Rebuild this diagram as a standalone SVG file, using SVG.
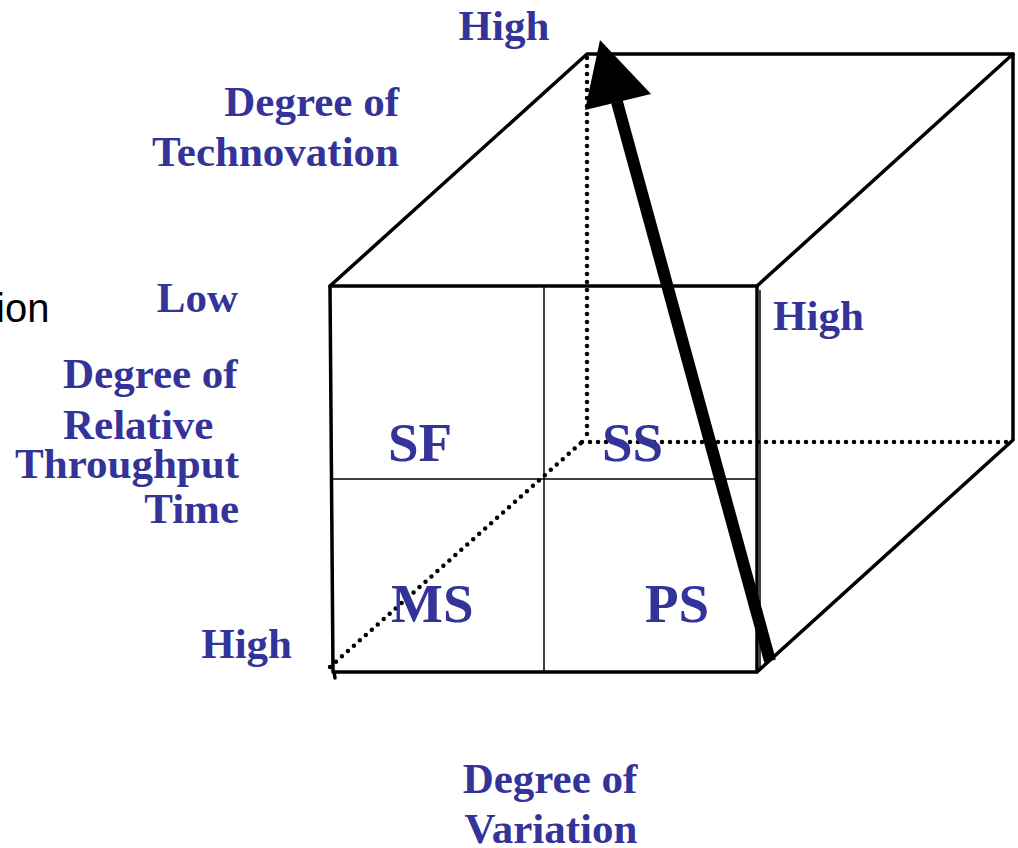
<svg xmlns="http://www.w3.org/2000/svg" width="1018" height="848" viewBox="0 0 1018 848">
<style>
.lbl{font-family:"Liberation Serif","Times New Roman",serif;font-weight:bold;fill:#333399;font-size:43px}
.big{font-size:55px}
.edge{stroke:#000;stroke-width:3.5;fill:none;stroke-linecap:round;stroke-linejoin:round}
.thin{stroke:#000;stroke-width:1.5;fill:none}
.dot{stroke:#000;stroke-width:4.5;fill:none;stroke-dasharray:0 8;stroke-linecap:round}
</style>
<rect width="1018" height="848" fill="#fff"/>
<g id="cube">
<polyline class="edge" points="330,286 757,286 757,672 333,672 330,286"/>
<line class="edge" x1="334" y1="672" x2="335" y2="678"/>
<polyline class="edge" points="330,286 587,54 1013,54 1013,440 757,672"/>
<line class="edge" x1="757" y1="286" x2="1013" y2="54"/>
<line class="thin" x1="331" y1="479" x2="757" y2="479"/>
<line class="thin" x1="544" y1="286" x2="544" y2="672"/>
<line class="thin" x1="760" y1="290" x2="760" y2="668"/>
</g>
<g id="hidden-edges">
<line class="dot" x1="587" y1="58" x2="587" y2="441"/>
<line class="dot" x1="582" y1="442" x2="1008" y2="442"/>
<line class="dot" x1="330" y1="667" x2="582" y2="442"/>
</g>
<g id="connectors">
<line x1="770" y1="661" x2="617" y2="102" stroke="#000" stroke-width="12"/>
<polygon points="600,40 651,94 585,110" fill="#000"/>
</g>
<g id="labels">
<text class="lbl" x="504" y="40" text-anchor="middle">High</text>
<text class="lbl" x="399" y="116" text-anchor="end">Degree of</text>
<text class="lbl" x="399" y="166" text-anchor="end">Technovation</text>
<text class="lbl" x="238" y="312" text-anchor="end">Low</text>
<text class="lbl" x="63" y="388">Degree of</text>
<text class="lbl" x="63" y="439">Relative</text>
<text class="lbl" x="239" y="478" text-anchor="end">Throughput</text>
<text class="lbl" x="239" y="523" text-anchor="end">Time</text>
<text class="lbl" x="292" y="658" text-anchor="end">High</text>
<text class="lbl" x="773" y="330">High</text>
<text class="lbl" x="550" y="793" text-anchor="middle">Degree of</text>
<text class="lbl" x="551" y="843" text-anchor="middle">Variation</text>
<text x="-4" y="322" font-family="Liberation Sans, Arial, sans-serif" font-size="40" fill="#000">ion</text>
</g>
<g id="cells">
<text class="lbl big" x="388" y="461">SF</text>
<text class="lbl big" x="602" y="461">SS</text>
<text class="lbl big" x="391" y="622">MS</text>
<text class="lbl big" x="645" y="622">PS</text>
</g>
</svg>
